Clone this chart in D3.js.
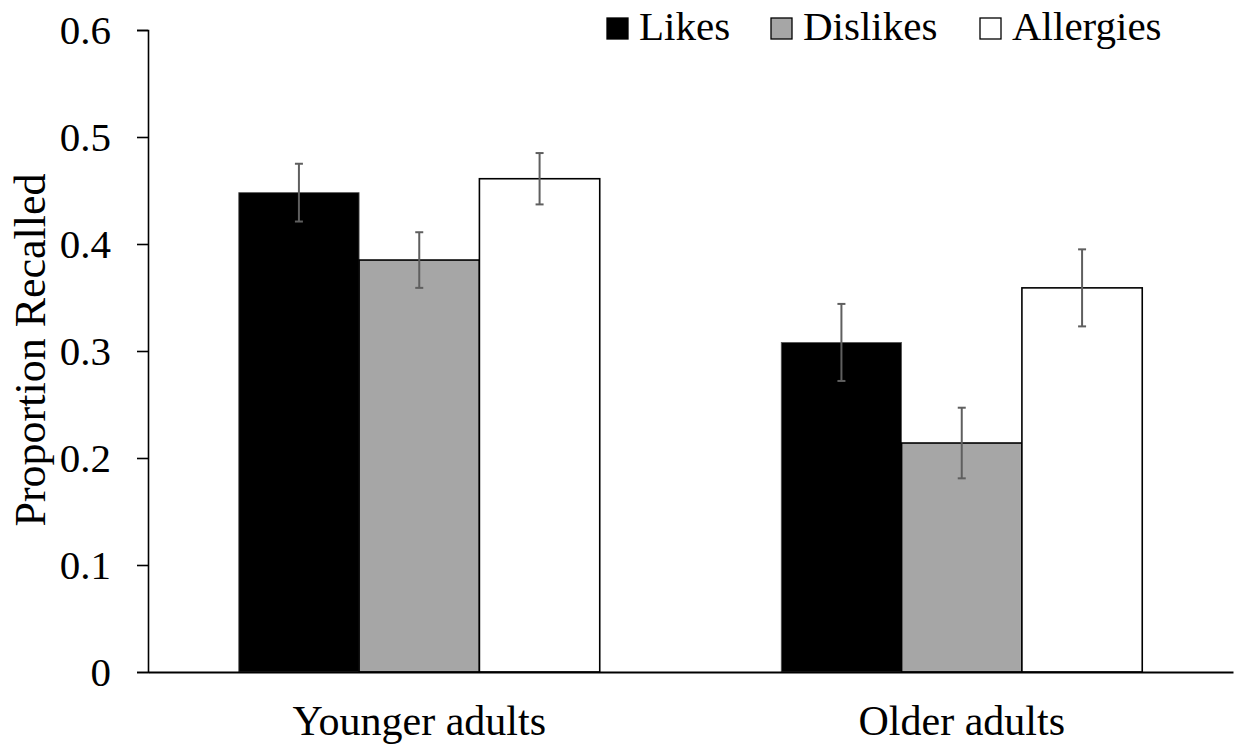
<!DOCTYPE html>
<html>
<head>
<meta charset="utf-8">
<script src="https://d3js.org/d3.v7.min.js"></script>
<style>
  body { margin: 0; background: #fff; }
  text { font-family: "Liberation Serif", "Times New Roman", serif; fill: #000; }
</style>
</head>
<body>
<div id="chart"></div>
<script>
// Data
const groups = ["Younger adults", "Older adults"];
const series = ["Likes", "Dislikes", "Allergies"];
const means = [
  [0.448, 0.385, 0.461],
  [0.308, 0.214, 0.359]
];
const errors = [
  [0.027, 0.026, 0.024],
  [0.036, 0.033, 0.036]
];
const yTicks = [0, 0.1, 0.2, 0.3, 0.4, 0.5, 0.6];

const fills = { Likes: "#000000", Dislikes: "#a6a6a6", Allergies: "#ffffff" };

const width = 1235, height = 744;
const margin = { top: 30, right: 2, bottom: 72, left: 148 };

const svg = d3.select("#chart").append("svg")
  .attr("width", width)
  .attr("height", height);

const x0 = d3.scaleBand()
  .domain(groups)
  .range([margin.left, width - margin.right])
  .paddingInner(0.3346)
  .paddingOuter(0.1673);

const x1 = d3.scaleBand()
  .domain(series)
  .range([0, x0.bandwidth()])
  .padding(0);

const y = d3.scaleLinear()
  .domain([0, 0.6])
  .range([height - margin.bottom, margin.top]);

const rows = [];
groups.forEach((g, gi) => {
  series.forEach((s, si) => {
    rows.push({ group: g, key: s, value: means[gi][si], err: errors[gi][si] });
  });
});

// Bars
svg.append("g")
  .selectAll("rect")
  .data(rows)
  .join("rect")
  .attr("x", d => x0(d.group) + x1(d.key))
  .attr("y", d => y(d.value))
  .attr("width", x1.bandwidth())
  .attr("height", d => y(0) - y(d.value))
  .attr("fill", d => fills[d.key])
  .attr("stroke", d => d.key === "Likes" ? "#555" : "#000")
  .attr("stroke-width", d => d.key === "Likes" ? 0.8 : 1.6);

// Error bars
const eb = svg.append("g").attr("stroke", "#5f5f5f").attr("stroke-width", 2);
rows.forEach(d => {
  const cx = x0(d.group) + x1(d.key) + x1.bandwidth() / 2;
  eb.append("line")
    .attr("x1", cx).attr("x2", cx)
    .attr("y1", y(d.value + d.err)).attr("y2", y(d.value - d.err));
  [d.value + d.err, d.value - d.err].forEach(v => {
    eb.append("line")
      .attr("x1", cx - 4).attr("x2", cx + 4)
      .attr("y1", y(v)).attr("y2", y(v));
  });
});

// Y axis
const yAxis = d3.axisLeft(y)
  .tickValues(yTicks)
  .tickSize(11)
  .tickPadding(26)
  .tickFormat(d => d === 0 ? "0" : d3.format(".1f")(d));

const gy = svg.append("g")
  .attr("transform", `translate(${margin.left},0)`)
  .call(yAxis);
gy.select(".domain").attr("stroke", "#000").attr("stroke-width", 1.6);
gy.selectAll(".tick line").attr("stroke", "#000").attr("stroke-width", 1.6);
gy.selectAll(".tick text")
  .attr("font-family", "Liberation Serif, Times New Roman, serif")
  .attr("font-size", 41)
  .attr("dy", "0.34em");

// X axis
const xAxis = d3.axisBottom(x0).tickSize(0).tickPadding(46);
const gx = svg.append("g")
  .attr("transform", `translate(0,${y(0)})`)
  .call(xAxis);
gx.select(".domain").attr("stroke", "#000").attr("stroke-width", 2);
gx.selectAll(".tick text")
  .attr("font-family", "Liberation Serif, Times New Roman, serif")
  .attr("font-size", 42)
  .attr("dy", "0.4em");

// Y label
svg.append("text")
  .attr("transform", `translate(45,350) rotate(-90)`)
  .attr("text-anchor", "middle")
  .attr("font-size", 44)
  .text("Proportion Recalled");

// Legend
const legendX = [607, 771, 980];
const legend = svg.append("g");
series.forEach((s, i) => {
  legend.append("rect")
    .attr("x", legendX[i]).attr("y", 18)
    .attr("width", 21).attr("height", 21)
    .attr("fill", fills[s])
    .attr("stroke", "#000")
    .attr("stroke-width", 1.3);
  legend.append("text")
    .attr("x", legendX[i] + 32)
    .attr("y", 40)
    .attr("font-size", 41)
    .text(s);
});
</script>
</body>
</html>
